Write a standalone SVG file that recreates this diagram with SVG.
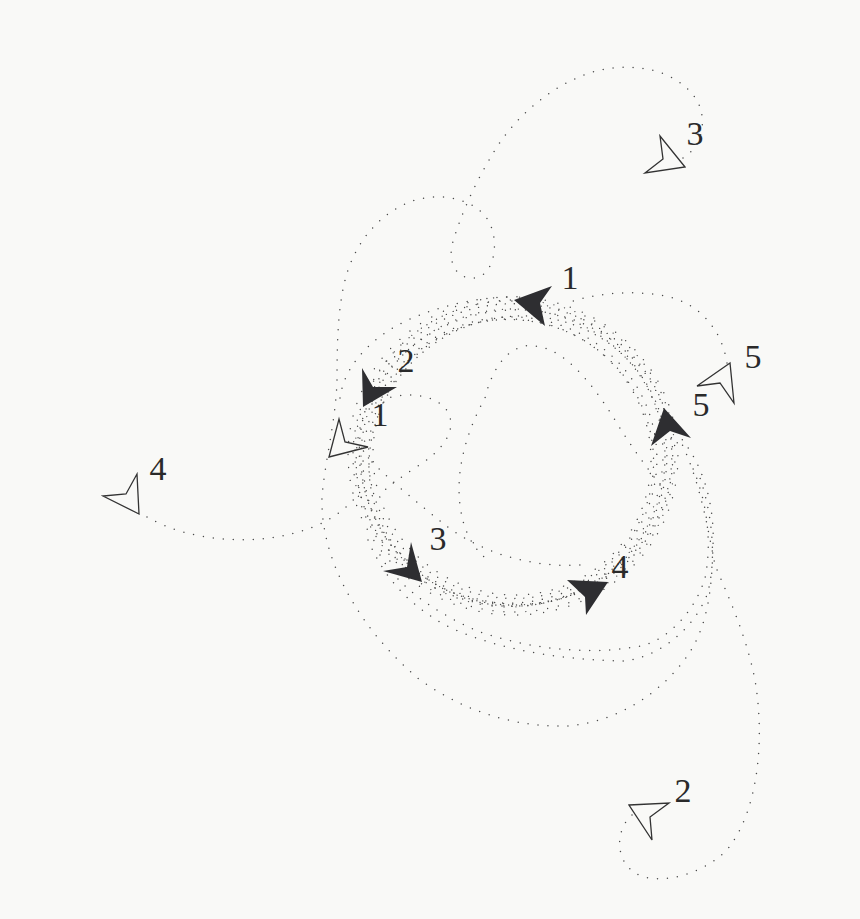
<svg xmlns="http://www.w3.org/2000/svg" width="860" height="919" viewBox="0 0 860 919">
<style>
.tr{fill:none;stroke:#4a4a4a;stroke-width:1.5;stroke-linecap:round;stroke-dasharray:0 10}
.rg{fill:none;stroke:#4a4a4a;stroke-width:1.4;stroke-linecap:round}
.fa{fill:#2e2e31}
.oa{fill:none;stroke:#333;stroke-width:1.3}
.lb{font-family:"Liberation Serif","DejaVu Serif",serif;font-size:34px;fill:#2a2a2a;text-anchor:middle}
</style>
<rect width="860" height="919" fill="#f9f9f7"/>
<g id="connectors">
  <g id="ring">
    <ellipse class="rg" cx="513" cy="457" rx="152" ry="148" stroke-dasharray="0 8"/>
    <ellipse class="rg" cx="516" cy="454" rx="157" ry="150" stroke-dasharray="0 9" stroke-dashoffset="3" transform="rotate(12 516 454)"/>
    <ellipse class="rg" cx="510" cy="460" rx="147" ry="143" stroke-dasharray="0 10" transform="rotate(-10 510 460)"/>
    <ellipse class="rg" cx="514" cy="456" rx="161" ry="156" stroke-dasharray="0 11" stroke-dashoffset="5"/>
    <ellipse class="rg" cx="511" cy="459" rx="143" ry="139" stroke-dasharray="0 9" stroke-dashoffset="2" transform="rotate(20 511 459)"/>
    <ellipse class="rg" cx="509" cy="454" rx="154" ry="153" stroke-dasharray="0 12" stroke-dashoffset="6"/>
    <ellipse class="rg" cx="518" cy="461" rx="150" ry="144" stroke-dasharray="0 8" stroke-dashoffset="4" transform="rotate(-25 518 461)"/>
    <ellipse class="rg" cx="513" cy="456" rx="165" ry="159" stroke-dasharray="0 13" stroke-dashoffset="1" transform="rotate(6 513 456)"/>
    <ellipse class="rg" cx="514" cy="458" rx="158" ry="148" stroke-dasharray="0 10" stroke-dashoffset="7" transform="rotate(-8 514 458)"/>
    <ellipse class="rg" cx="512" cy="457" rx="140" ry="137" stroke-dasharray="0 12" stroke-dashoffset="3" transform="rotate(35 512 457)"/>
  </g>
  <path id="trail3" class="tr" d="M683,158 L693,150 C705,135 706,110 693,95 C675,72 640,62 600,70 C560,80 520,110 495,150 C478,178 462,210 452,245 C448,265 458,280 475,278 C495,275 500,240 488,220 C475,200 445,192 415,200 C385,210 360,235 348,270 C338,300 337,340 337,380 C336,420 325,460 322,497 C320,560 360,630 420,680 C470,715 520,727 567,726 C620,722 665,690 690,652 C710,620 712,580 713,545 C715,500 700,460 680,437"/>
  <path id="trail2" class="tr" d="M632,815 C615,830 615,860 635,873 C660,888 710,872 730,846 C758,808 765,740 755,680 C745,630 725,590 715,565 C708,530 700,480 680,440"/>
  <path id="trail4" class="tr" d="M147,517 C190,542 260,548 313,527 C335,518 352,505 365,485"/>
  <path id="trail5" class="tr" d="M727,363 C722,330 700,305 670,297 C640,290 600,292 570,302"/>
  <path class="tr" d="M340,398 C345,360 380,330 420,315 C450,303 490,295 530,297"/>
  <path class="tr" d="M368,540 C385,580 410,605 445,625 C500,652 570,660 625,661 C665,655 695,625 707,595 C716,565 714,520 700,478"/>
  <path class="tr" d="M380,555 C400,590 440,615 480,632 C540,652 600,655 645,645 C675,635 697,605 705,578 C712,545 708,500 690,462"/>
  <path class="tr" d="M372,404 C400,390 435,392 448,412 C458,432 440,452 418,466 C400,478 390,485 385,490"/>
  <path class="tr" d="M372,462 C390,480 420,505 445,525 C480,552 530,568 580,565"/>
  <path class="tr" d="M660,485 C645,465 630,445 615,420 C590,380 560,342 525,346 C505,350 492,370 485,398 C470,425 455,465 460,505 C463,530 472,548 490,562"/>
</g>
<g id="agent-final-1"><polygon class="fa" points="514,300 552,286 540,303 545,326"/><text class="lb" x="570" y="289">1</text></g>
<g id="agent-final-2"><polygon class="fa" points="363,407 362,368 373,387 397,387"/><text class="lb" x="406" y="372">2</text></g>
<g id="agent-final-3"><polygon class="fa" points="422,582 411,542 407,567 383,571"/><text class="lb" x="438" y="550">3</text></g>
<g id="agent-final-4"><polygon class="fa" points="608,582 567,580 585,597 586,615"/><text class="lb" x="620" y="578">4</text></g>
<g id="agent-final-5"><polygon class="fa" points="664,408 691,438 670,431 651,446"/><text class="lb" x="701" y="416">5</text></g>
<g id="agent-start-1"><polygon class="oa" points="329,457 339,419 345,442 368,447"/><text class="lb" x="380" y="426">1</text></g>
<g id="agent-start-2"><polygon class="oa" points="629,805 669,803 650,817 652,840"/><text class="lb" x="683" y="802">2</text></g>
<g id="agent-start-3"><polygon class="oa" points="685,167 660,136 663,159 645,173"/><text class="lb" x="695" y="145">3</text></g>
<g id="agent-start-4"><polygon class="oa" points="139,514 137,474 126,494 103,496"/><text class="lb" x="158" y="480">4</text></g>
<g id="agent-start-5"><polygon class="oa" points="730,363 697,386 720,383 734,403"/><text class="lb" x="753" y="368">5</text></g>
</svg>
